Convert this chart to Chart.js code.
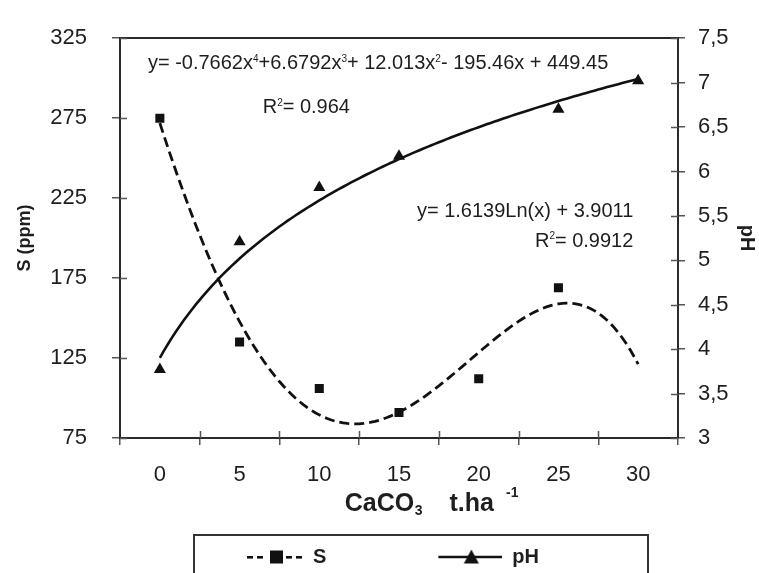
<!DOCTYPE html>
<html>
<head>
<meta charset="utf-8">
<script src="https://cdn.jsdelivr.net/npm/chart.js@4.4.1/dist/chart.umd.min.js"></script>
<style>
html,body{margin:0;padding:0;background:#fff}
#wrap{width:759px;height:573px;position:relative}
</style>
</head>
<body>
<div id="wrap"><canvas id="c"></canvas></div>
<script>
// ---- data ----
const doses = [0, 5, 10, 15, 20, 25, 30];            // CaCO3 t.ha-1
const sPpm = [275, 135, 106, 91, 112, 169, null];    // S (ppm)
const pHValues = [3.77, 5.21, 5.82, 6.17, null, 6.70, 7.02];
const sTickValues = [75, 125, 175, 225, 275, 325];
const phTickValues = [3, 3.5, 4, 4.5, 5, 5.5, 6, 6.5, 7, 7.5];
// trendline coefficients printed on the chart (x = category index 1..7)
const sPolyCoef = [449.45, -195.46, 12.013, 6.6792, -0.7662];
const phLogCoef = [1.6139, 3.9011];
const sEquation = [['y= -0.7662x',0],['4',1],['+6.6792x',0],['3',1],['+ 12.013x',0],['2',1],['- 195.46x + 449.45',0]];
const sR2 = [['R',0],['2',1],['= 0.964',0]];
const phEquation = [['y= 1.6139Ln(x) + 3.9011',0]];
const phR2 = [['R',0],['2',1],['= 0.9912',0]];
const seriesNames = ['S', 'pH'];

const trendDoses = [];
for (let d = 0; d <= 30.0001; d += 0.25) trendDoses.push(d);
const doseIndex = d => d / 5 + 1;
const sTrend = trendDoses.map(d => {
  const t = doseIndex(d);
  return {x: d, y: sPolyCoef.reduce((a, c, k) => a + c * Math.pow(t, k), 0)};
});
const phTrend = trendDoses.map(d => ({x: d, y: phLogCoef[0] * Math.log(doseIndex(d)) + phLogCoef[1]}));

const FONT = 'Liberation Sans, Arial, sans-serif';
const TXT = '#1e1e1e';
const INK = '#111';

// legend sample images
function legendImg(kind) {
  const c = document.createElement('canvas');
  c.width = 119; c.height = 20;
  const g = c.getContext('2d');
  g.fillStyle = INK; g.strokeStyle = INK;
  if (kind === 'S') {
    [63, 73, 102, 112].forEach(x => g.fillRect(x, 9, 6, 2.6));
    g.fillRect(86, 3.5, 13, 13);
  } else {
    g.lineWidth = 2.5;
    g.beginPath(); g.moveTo(55, 10); g.lineTo(119, 10); g.stroke();
    g.beginPath(); g.moveTo(88, 2.5); g.lineTo(80.5, 16.5); g.lineTo(95.5, 16.5); g.closePath(); g.fill();
  }
  return c;
}
const legendImages = [legendImg('S'), legendImg('pH')];

function drawRich(ctx, parts, x, yc, align, size) {
  const supSize = Math.round(size * 0.5);
  let total = 0;
  parts.forEach(([t, s]) => {
    ctx.font = (s ? supSize : size) + 'px ' + FONT;
    total += ctx.measureText(t).width;
  });
  let cx = align === 'right' ? x - total : x;
  const base = yc + size * 0.36;
  ctx.textAlign = 'left';
  ctx.textBaseline = 'alphabetic';
  parts.forEach(([t, s]) => {
    ctx.font = (s ? supSize : size) + 'px ' + FONT;
    ctx.fillText(t, cx, s ? base - size * 0.37 : base);
    cx += ctx.measureText(t).width;
  });
}

const decor = {
  id: 'decor',
  afterDraw(chart) {
    const ctx = chart.ctx;
    const xs = chart.scales.x, ys = chart.scales.y, y2 = chart.scales.y2;
    const area = chart.chartArea;
    ctx.save();
    // inner half of the crossing tick marks
    ctx.strokeStyle = '#555'; ctx.lineWidth = 1.5;
    ctx.beginPath();
    for (let k = 1; k < doses.length; k++) {
      const px = Math.round(xs.getPixelForValue((doses[k - 1] + doses[k]) / 2)) + 0.5;
      ctx.moveTo(px, area.bottom); ctx.lineTo(px, area.bottom - 7);
    }
    sTickValues.forEach(v => { const py = Math.round(ys.getPixelForValue(v)) + 0.5; ctx.moveTo(area.left, py); ctx.lineTo(area.left + 7, py); });
    phTickValues.forEach(v => { const py = Math.round(y2.getPixelForValue(v)) + 0.5; ctx.moveTo(area.right, py); ctx.lineTo(area.right - 7, py); });
    ctx.stroke();

    // trendline equations
    ctx.fillStyle = TXT;
    drawRich(ctx, sEquation, xs.getPixelForValue(-0.75), ys.getPixelForValue(310), 'left', 20);
    drawRich(ctx, sR2, xs.getPixelForValue(6.45), ys.getPixelForValue(282.5), 'left', 20);
    drawRich(ctx, phEquation, xs.getPixelForValue(29.7), ys.getPixelForValue(218), 'right', 20);
    drawRich(ctx, phR2, xs.getPixelForValue(29.7), ys.getPixelForValue(199), 'right', 20);

    // x axis title: CaCO3  t.ha -1
    const base = area.bottom + 73;
    let cx = xs.getPixelForValue(11.6);
    ctx.textAlign = 'left'; ctx.textBaseline = 'alphabetic';
    ctx.font = 'bold 25px ' + FONT;
    ctx.fillText('CaCO', cx, base); cx += ctx.measureText('CaCO').width + 0.5;
    ctx.font = 'bold 14px ' + FONT;
    ctx.fillText('3', cx, base + 4); cx += ctx.measureText('3').width + 27;
    ctx.font = 'bold 25px ' + FONT;
    ctx.fillText('t.ha', cx, base); cx += ctx.measureText('t.ha').width + 12;
    ctx.font = 'bold 14px ' + FONT;
    ctx.fillText('-1', cx, base - 14);

    // legend frame
    const hb = chart.legend.legendHitBoxes;
    if (hb && hb.length === 2) {
      const l = hb[0].left + 10, r = hb[1].left + hb[1].width + 109, t = hb[0].top - 12;
      ctx.strokeStyle = '#333'; ctx.lineWidth = 2;
      ctx.strokeRect(l, t, r - l, chart.height - t + 10);
    }
    ctx.restore();
  }
};

const tickFont = {family: FONT, size: 22};
new Chart(document.getElementById('c'), {
  type: 'scatter',
  data: {
    datasets: [
      {label: 'S trend', data: sTrend, showLine: true, borderColor: INK, borderWidth: 2.8, borderDash: [10, 5], pointRadius: 0, yAxisID: 'y'},
      {label: 'pH trend', data: phTrend, showLine: true, borderColor: INK, borderWidth: 2.6, pointRadius: 0, yAxisID: 'y2'},
      {label: 'S', data: doses.map((d, i) => ({x: d, y: sPpm[i]})), pointStyle: 'rect', pointRadius: 6.4, backgroundColor: INK, borderColor: INK, borderWidth: 0, yAxisID: 'y'},
      {label: 'pH', data: doses.map((d, i) => ({x: d, y: pHValues[i]})), pointStyle: 'triangle', pointRadius: 7, backgroundColor: INK, borderColor: INK, borderWidth: 0, yAxisID: 'y2'}
    ]
  },
  options: {
    responsive: true,
    maintainAspectRatio: false,
    animation: false,
    layout: {padding: {top: 25, bottom: -4, left: -36, right: 0}, autoPadding: false},
    scales: {
      x: {
        type: 'linear', position: 'bottom', min: -2.5, max: 32.5,
        afterBuildTicks: s => { s.ticks = doses.map(v => ({value: v})); },
        afterFit: s => { s.height = 52; },
        ticks: {font: tickFont, color: TXT, padding: 17, maxRotation: 0, autoSkip: false, callback: v => String(v)},
        grid: {display: true, drawOnChartArea: false, drawTicks: true, tickLength: 7, offset: true, color: '#555', lineWidth: 1.5},
        border: {display: true, color: '#2a2a2a', width: 2}
      },
      x2: {
        type: 'linear', position: 'top', min: -2.5, max: 32.5, display: true,
        afterFit: s => { s.height = 0; },
        ticks: {display: false},
        grid: {display: false, drawTicks: false},
        border: {display: true, color: '#2a2a2a', width: 2}
      },
      y: {
        type: 'linear', position: 'left', min: 75, max: 325,
        afterBuildTicks: s => { s.ticks = sTickValues.map(v => ({value: v})); },
        afterFit: s => { s.width = 156; },
        ticks: {font: tickFont, color: TXT, padding: 25},
        grid: {display: true, drawOnChartArea: false, drawTicks: true, tickLength: 8, color: '#555', lineWidth: 1.5},
        border: {display: true, color: '#2a2a2a', width: 2},
        title: {display: true, text: 'S (ppm)', color: TXT, font: {family: FONT, size: 18, weight: 'bold'}, padding: {top: 50, bottom: 0}}
      },
      y2: {
        type: 'linear', position: 'right', min: 3, max: 7.5,
        afterBuildTicks: s => { s.ticks = phTickValues.map(v => ({value: v})); },
        afterFit: s => { s.width = 81; },
        ticks: {font: tickFont, color: TXT, padding: 13, callback: v => String(v).replace('.', ',')},
        grid: {display: true, drawOnChartArea: false, drawTicks: true, tickLength: 7, color: '#555', lineWidth: 1.5},
        border: {display: true, color: '#2a2a2a', width: 2},
        title: {display: true, text: 'pH', color: TXT, font: {family: FONT, size: 20, weight: 'bold'}, padding: {top: 0, bottom: 0}}
      }
    },
    plugins: {
      tooltip: {enabled: false},
      legend: {
        display: true, position: 'bottom', align: 'center',
        labels: {
          usePointStyle: true, pointStyleWidth: 119, padding: 57,
          font: {family: FONT, size: 20, weight: 'bold'}, color: TXT,
          generateLabels: () => seriesNames.map((n, i) => ({
            text: n, pointStyle: legendImages[i], fillStyle: INK, strokeStyle: INK,
            lineWidth: 0, hidden: false, datasetIndex: i + 2, fontColor: TXT
          }))
        }
      }
    }
  },
  plugins: [decor]
});
</script>
</body>
</html>
